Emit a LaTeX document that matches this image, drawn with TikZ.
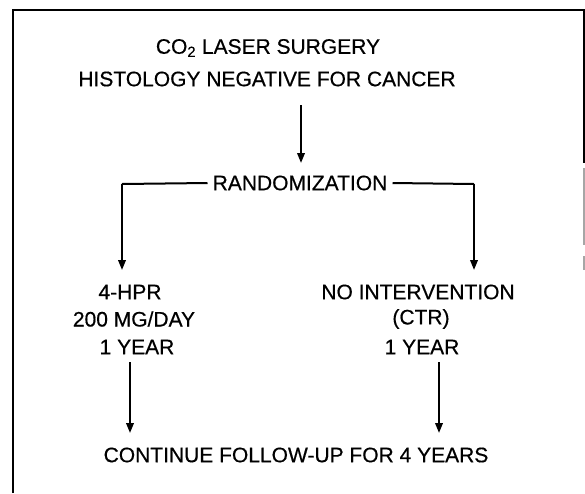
\documentclass[tikz,border=0pt]{standalone}
\usepackage{fontspec}
\setmainfont{Liberation Sans}
\newfontfamily\diagfont{Liberation Sans}[FakeBold=0.5]
\usetikzlibrary{arrows.meta,calc}
\begin{document}
\begin{tikzpicture}[x=1pt,y=-1pt,
  txt/.style={inner sep=0pt,font=\diagfont\fontsize{21}{22}\selectfont,anchor=center},
  frame/.style={line width=2.1pt},
  link/.style={line width=2pt},
  arr/.style={line width=2pt,-{Triangle[length=10pt,width=7.5pt]}}]
\useasboundingbox (0,0) rectangle (585,493);
% frame
\draw[frame] (13,493) -- (13,10) -- (584,10) -- (584,163);
\draw[line width=1.4pt,gray!70] (584,168) -- (584,245);
\draw[line width=1.4pt,gray!70] (584,256) -- (584,270);
% texts
\node[txt] (t1) at (268,48) {CO\textsubscript{2} LASER SURGERY};
\node[txt] (t2) at (267,79) {HISTOLOGY NEGATIVE FOR CANCER};
\node[txt,inner xsep=5pt] (rand) at (300,183) {RANDOMIZATION};
\node[txt] (l1) at (130,292) {4-HPR};
\node[txt] (l2) at (134,319) {200 MG/DAY};
\node[txt] (l3) at (137,347) {1 YEAR};
\node[txt] (r1) at (418,292) {NO INTERVENTION};
\node[txt] (r2) at (421,319) {(CTR)};
\node[txt] (r3) at (422,347) {1 YEAR};
\node[txt] (cont) at (296,455) {CONTINUE FOLLOW-UP FOR 4 YEARS};
% connectors
\coordinate (bl) at (122,184);
\coordinate (br) at (474,184);
\draw[arr] ($(t2 -| 301,0)+(0,26)$) -- ($(rand -| 301,0)+(0,-20)$);
\draw[link] (rand.west) -- (bl);
\draw[arr] (bl) -- ($(l1 -| bl)+(0,-22)$);
\draw[link] (rand.east) -- (br);
\draw[arr] (br) -- ($(r1 -| br)+(0,-22)$);
\draw[arr] ($(l3 -| 130,0)+(0,15)$) -- ($(cont -| 130,0)+(0,-22)$);
\draw[arr] ($(r3 -| 439,0)+(0,15)$) -- ($(cont -| 439,0)+(0,-22)$);
\end{tikzpicture}
\end{document}
